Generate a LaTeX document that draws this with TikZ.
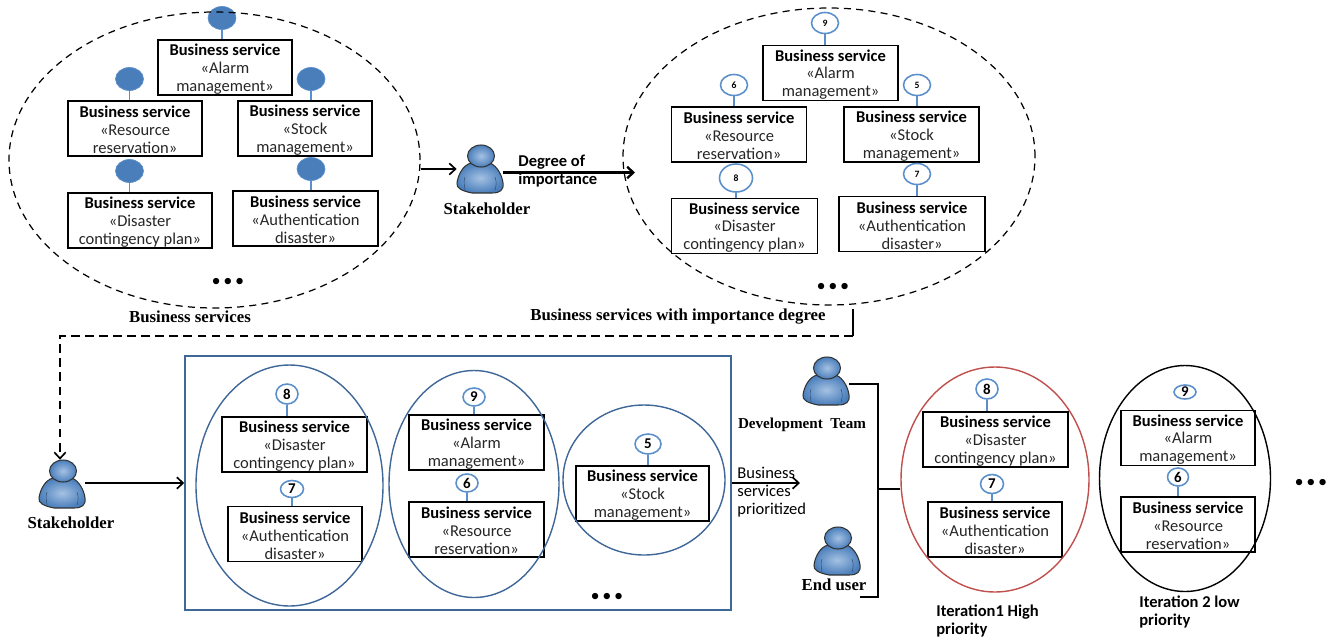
\documentclass[tikz,border=0pt]{standalone}
\usepackage{fontspec}
\setmainfont{Carlito}
\newfontfamily\labelfont{Liberation Serif}
\usetikzlibrary{shapes.geometric,arrows.meta}

\definecolor{ringblue}{HTML}{5B8FCB}
\definecolor{ballblue}{HTML}{4A7EBB}
\definecolor{lineblue}{HTML}{3F6797}
\definecolor{ringred}{HTML}{C0504D}
\definecolor{bodytext}{HTML}{262626}

\newcommand{\svc}[6]{% name, x, y, width, two lines of text
  \node (#1) [svc, minimum width=#4*0.2mm] at (#2,#3) {\rule{0pt}{8.4pt}\textbf{Business service}\\\textcolor{bodytext}{«#5}\\\textcolor{bodytext}{#6}};
}
\newcommand{\ball}[3]{\node (#1) [ball] at (#2,#3) {};}
\newcommand{\actor}[3]{%
  \node (#1) [actorbox] at (#2,#3) {};
  \begin{scope}[shift={(#2,#3)}]
    \path [actorfill] (-9,-6) .. controls (-17,-4) and (-22,6) .. (-23,14)
      .. controls (-24,19) and (-18,22) .. (-8,24) -- (12,24)
      .. controls (20,24) and (24,21) .. (23,14)
      .. controls (22,6) and (17,-3) .. (10,-6) -- cycle;
    \draw [lineblue!70!black, line width=0.25pt] (-15,8) .. controls (-17,13) and (-15,18) .. (-15,21);
    \draw [lineblue!70!black, line width=0.25pt] (15,8) .. controls (17,13) and (16,18) .. (15,21);
    \path [actorfill] (1,-13) ellipse [x radius=13.5, y radius=11];
  \end{scope}
}

\begin{document}
\begin{tikzpicture}[
	  x=0.2mm, y=-0.2mm,
	  >={Straight Barb[length=3.5pt,width=6.5pt]},
	  svc/.style={draw, line width=0.7pt, minimum height=55*0.2mm, inner sep=0pt, align=center,
	    font=\fontsize{9.4}{10.2}\selectfont},
	  ball/.style={ellipse, fill=ballblue, draw=ringblue, line width=0.4pt, inner sep=0pt,
	    minimum width=28*0.2mm, minimum height=23*0.2mm},
	  ring/.style={ellipse, draw=ringblue, line width=0.9pt, inner sep=0pt},
	  ringS/.style={ring, font=\fontsize{5.5}{6}\bfseries},
	  ringL/.style={ring, font=\fontsize{8.5}{9}\bfseries},
	  stem/.style={draw=ringblue, line width=0.9pt},
	  actorbox/.style={minimum width=46*0.2mm, minimum height=48*0.2mm, inner sep=0pt},
	  actorfill/.style={draw=black!80, line width=0.6pt, inner color=ringblue!55!white, outer color=ballblue},
	  cloud/.style={ellipse, draw, dash pattern=on 4pt off 3pt, line width=0.7pt, inner sep=0pt},
	  group/.style={ellipse, draw=lineblue, line width=0.8pt, inner sep=0pt},
	  conn/.style={draw, ->, line width=0.95pt},
	  caption/.style={font=\labelfont\bfseries\fontsize{9.55}{10}\selectfont, inner sep=0pt},
	  note/.style={font=\fontsize{9.4}{10.2}\selectfont, align=left, inner sep=0pt, anchor=west},
	  more/.style={font=\fontsize{9}{10}\selectfont, inner sep=0pt},
	]
	\useasboundingbox (0,0) rectangle (1333,640);

	% services, first cloud
	\svc{alarmA}{225}{67.5}{134}{Alarm}{management»}
	\svc{resA}{135}{128.5}{134}{Resource}{reservation»}
	\svc{stockA}{305}{128.5}{134}{Stock}{management»}
	\svc{disA}{140}{220.5}{144}{Disaster}{contingency plan»}
	\svc{authA}{305.5}{218.5}{145}{Authentication}{disaster»}
	\ball{ballA}{222}{18}
	\ball{ballB}{129.5}{79}
	\ball{ballC}{311}{79}
	\ball{ballD}{129.5}{171}
	\ball{ballE}{311}{169}
	\node (cloudA) [cloud, minimum width=411*0.2mm, minimum height=296*0.2mm] at (214.5,160) {};
	\node (dotsA) [more] at (228,282) {$\bullet\mkern4mu{\bullet}\mkern4mu\bullet$};
	\node (capA) [caption] at (190,317) {Business services};

	% services, second cloud
	\svc{alarmB}{830.5}{73}{135}{Alarm}{management»}
	\svc{resB}{739}{134.5}{135}{Resource}{reservation»}
	\svc{stockB}{911.5}{134.5}{135}{Stock}{management»}
	\svc{disB}{744.5}{226}{146}{Disaster}{contingency plan»}
	\svc{authB}{912}{224}{146}{Authentication}{disaster»}
	\node (ringA) [ringS, minimum width=27*0.2mm, minimum height=21*0.2mm] at (825,23) {9};
	\node (ringB) [ringS, minimum width=27*0.2mm, minimum height=21*0.2mm] at (734,85) {6};
	\node (ringC) [ringS, minimum width=27*0.2mm, minimum height=21*0.2mm] at (917,85) {5};
	\node (ringD) [ringS, minimum width=33*0.2mm, minimum height=28*0.2mm] at (736,178) {8};
	\node (ringE) [ringS, minimum width=27*0.2mm, minimum height=21*0.2mm] at (917,174) {7};
	\node (cloudB) [cloud, minimum width=412*0.2mm, minimum height=297*0.2mm] at (829,156.5) {};
	\node (dotsB) [more] at (833,287) {$\bullet\mkern4mu{\bullet}\mkern4mu\bullet$};
	\node (capB) [caption] at (678,317) {Business services with importance degree};

	% prioritized groups
	\svc{disC}{294.5}{444.5}{145}{Disaster}{contingency plan»}
	\svc{authC}{295}{534}{134}{Authentication}{disaster»}
	\svc{alarmC}{476.5}{442.5}{135}{Alarm}{management»}
	\svc{resC}{476.5}{529.5}{135}{Resource}{reservation»}
	\svc{stockC}{642.5}{493.5}{133}{Stock}{management»}
	\node (ringF) [ringL, minimum width=22*0.2mm, minimum height=20*0.2mm] at (287,394) {8};
	\node (ringG) [ringL, minimum width=23*0.2mm, minimum height=17*0.2mm] at (292,489) {7};
	\node (ringH) [ringL, minimum width=22*0.2mm, minimum height=18*0.2mm] at (474,397) {9};
	\node (ringI) [ringL, minimum width=22*0.2mm, minimum height=18*0.2mm] at (467,483) {6};
	\node (ringJ) [ringL, minimum width=26*0.2mm, minimum height=20*0.2mm] at (648,444) {5};
	\node (groupA) [group, minimum width=187*0.2mm, minimum height=241*0.2mm] at (289.5,485.5) {};
	\node (groupB) [group, minimum width=170*0.2mm, minimum height=227*0.2mm] at (474,484) {};
	\node (groupC) [group, minimum width=162*0.2mm, minimum height=150*0.2mm] at (644,480) {};
	\node (frame) [draw=lineblue, line width=0.85pt, minimum width=546*0.2mm, minimum height=254*0.2mm, inner sep=0pt] at (458,483) {};
	\node (dotsC) [more] at (607,597) {$\bullet\mkern4mu{\bullet}\mkern4mu\bullet$};

	% iterations
	\svc{disD}{995.5}{439.5}{145}{Disaster}{contingency plan»}
	\svc{authD}{995}{529.5}{134}{Authentication}{disaster»}
	\svc{alarmE}{1188}{438}{134}{Alarm}{management»}
	\svc{resE}{1188}{524.5}{134}{Resource}{reservation»}
	\node (ringK) [ringL, minimum width=22*0.2mm, minimum height=20*0.2mm] at (987,389) {8};
	\node (ringL) [ringL, minimum width=23*0.2mm, minimum height=19*0.2mm] at (992,484) {7};
	\node (ringM) [ringL, minimum width=22*0.2mm, minimum height=14*0.2mm] at (1185,392) {9};
	\node (ringN) [ringL, minimum width=21*0.2mm, minimum height=18*0.2mm] at (1178,477) {6};
	\node (iterA) [group, draw=ringred, minimum width=188*0.2mm, minimum height=225*0.2mm] at (995,479.5) {};
	\node (iterB) [group, draw=black, minimum width=171*0.2mm, minimum height=226*0.2mm] at (1185,478.5) {};
	\node (dotsD) [more] at (1311,483) {$\bullet\mkern4mu{\bullet}\mkern4mu\bullet$};
	\node (capC) [note] at (936,621) {\textbf{Iteration1 High}\\\textbf{priority}};
	\node (capD) [note] at (1139,612) {\textbf{Iteration 2 low}\\\textbf{priority}};

	% people
	\actor{stkA}{480}{169}
	\actor{stkB}{62}{484}
	\actor{devteam}{826}{381}
	\actor{enduser}{837}{551}
	\node (capE) [caption] at (487,209) {Stakeholder};
	\node (capF) [caption] at (71,523) {Stakeholder};
	\node (capG) [caption, font=\labelfont\bfseries\fontsize{8.6}{10}\selectfont] at (802,425) {Development\ \ Team};
	\node (capH) [caption] at (834,585) {End user};

	% stems
	\foreach \a/\b in {ballA/alarmA,ballB/resA,ballC/stockA,ballD/disA,ballE/authA,
	    ringA/alarmB,ringB/resB,ringC/stockB,ringD/disB,ringE/authB,
	    ringF/disC,ringG/authC,ringH/alarmC,ringI/resC,ringJ/stockC,
	    ringK/disD,ringL/authD,ringN/resE}
	  \draw [stem] (\a.south) -- (\a.south |- \b.north);

	% connectors
	\coordinate (inB) at (635,172.5);
	\coordinate (outB) at (853,309);
	\coordinate (bendR) at (853,336);
	\coordinate (bendL) at (60,336);
	\coordinate (joinT) at (878,384);
	\coordinate (joinM) at (878,489);
	\coordinate (joinB) at (878,597);
	\coordinate (prioEnd) at (800,483);

	\draw [conn] (cloudA.east |- stkA.west) -- (stkA.west);
	\draw [conn, line width=1.3pt] (stkA.east |- inB) -- (inB);
	\draw [line width=0.95pt] (outB) -- (bendR);
	\draw [conn, dash pattern=on 5pt off 3pt] (bendR) -- (bendL) -- (bendL |- stkB.north);
	\draw [conn] (stkB.east |- frame.west) -- (frame.west);
	\draw [conn] (frame.east |- prioEnd) -- (prioEnd);
	\draw [line width=0.95pt] (devteam.east |- joinT) -- (joinT) -- (joinB) -- (enduser.east |- joinB);
	\draw [line width=0.95pt] (joinM) -- (iterA.west |- joinM);

	\node (degree) [note] at (518,171) {\textbf{Degree of}\\\textbf{importance}};
	\node (prio) [note] at (737,492) {Business\\services\\prioritized};
\end{tikzpicture}
\end{document}
